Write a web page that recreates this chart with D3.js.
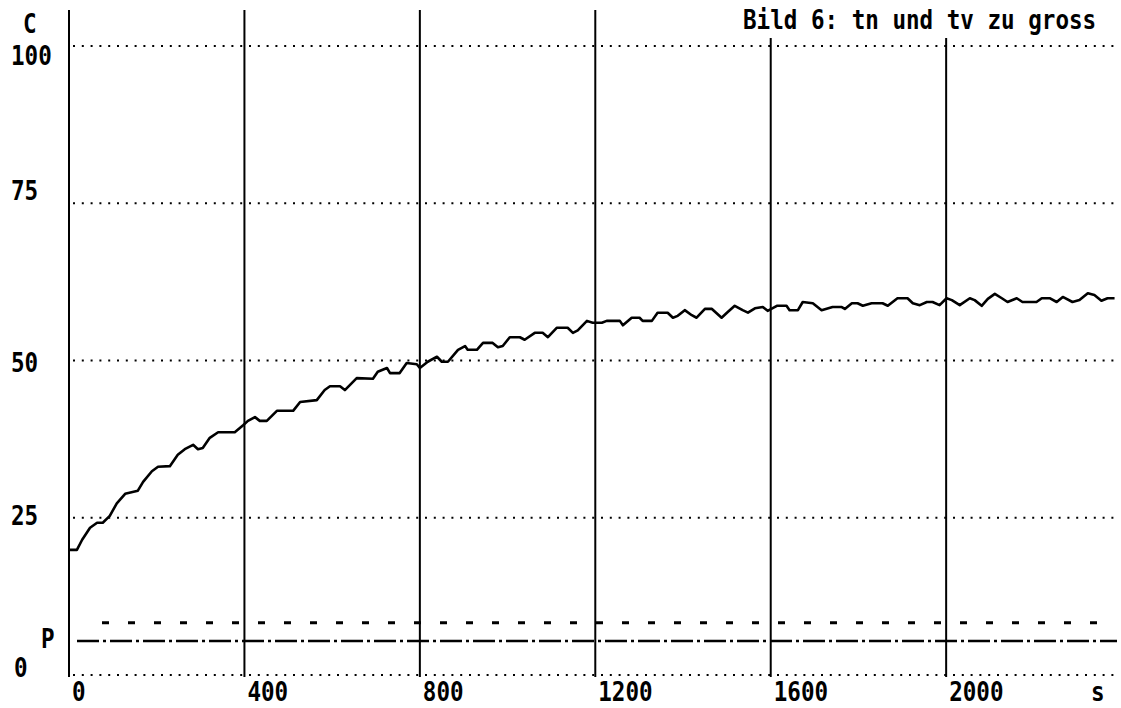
<!DOCTYPE html>
<html>
<head>
<meta charset="utf-8">
<script src="https://cdn.jsdelivr.net/npm/d3@7"></script>
<style>
  html, body { margin: 0; padding: 0; background: #fff; }
  svg { display: block; }
  text { font-family: "DejaVu Sans Mono", monospace; font-weight: bold; fill: #000; }
</style>
</head>
<body>
<script>
// Data (time in s, temperature in C)
var timeS = [2, 18, 30, 48, 64, 77, 93, 109, 128, 157, 169, 189, 203, 230, 248, 264, 283, 294, 305, 321,
  340, 378, 397, 408, 424, 435, 451, 474, 511, 527, 565, 583, 595, 618, 629, 656, 693, 704, 725, 732,
  754, 770, 793, 800, 818, 839, 850, 864, 887, 903, 909, 930, 944, 966, 978, 989, 1005, 1028, 1039, 1062,
  1080, 1092, 1112, 1137, 1149, 1160, 1181, 1194, 1215, 1226, 1256, 1263, 1283, 1301, 1308, 1329, 1342, 1365, 1377, 1388,
  1404, 1420, 1431, 1450, 1466, 1488, 1502, 1518, 1536, 1548, 1564, 1582, 1593, 1614, 1636, 1643, 1662, 1673, 1696, 1716,
  1741, 1762, 1769, 1785, 1798, 1810, 1830, 1855, 1867, 1889, 1912, 1924, 1940, 1956, 1969, 1985, 2001, 2013, 2031, 2054,
  2065, 2081, 2095, 2111, 2127, 2140, 2161, 2174, 2206, 2218, 2236, 2252, 2266, 2288, 2304, 2323, 2338, 2354, 2368, 2384];

var tempC = [19.9, 19.9, 21.5, 23.4, 24.2, 24.2, 25.3, 27.3, 28.8, 29.3, 30.7, 32.4, 33.1, 33.2, 35.0, 35.9, 36.6, 35.9, 36.1, 37.7,
  38.6, 38.6, 39.7, 40.4, 41.0, 40.4, 40.4, 42.0, 42.0, 43.4, 43.7, 45.3, 45.9, 45.9, 45.3, 47.2, 47.1, 48.2, 48.8, 48.0,
  48.0, 49.6, 49.4, 48.8, 49.8, 50.6, 49.8, 49.8, 51.7, 52.3, 51.7, 51.7, 52.8, 52.8, 52.1, 52.3, 53.7, 53.7, 53.3, 54.4,
  54.4, 53.7, 55.2, 55.2, 54.4, 54.8, 56.3, 56.0, 56.0, 56.3, 56.3, 55.6, 56.8, 56.8, 56.3, 56.3, 57.6, 57.6, 56.8, 57.1,
  58.0, 57.2, 56.8, 58.2, 58.2, 56.8, 57.7, 58.7, 58.0, 57.6, 58.3, 58.5, 57.9, 58.7, 58.7, 58.0, 58.0, 59.3, 59.1, 58.0,
  58.5, 58.5, 58.2, 59.1, 59.1, 58.7, 59.1, 59.1, 58.7, 59.9, 59.9, 59.1, 58.8, 59.3, 59.3, 58.8, 59.9, 59.6, 58.8, 59.9,
  59.6, 58.7, 59.8, 60.6, 59.9, 59.3, 59.9, 59.3, 59.3, 59.9, 59.9, 59.3, 60.1, 59.3, 59.6, 60.7, 60.4, 59.5, 59.9, 59.9];

var xTicks = [0, 400, 800, 1200, 1600, 2000];
var yTicks = [0, 25, 50, 75, 100];
var dashedLevel = 8.3;   // short dashes
var pLevel = 5.4;        // dash-dot line marked P
var title = 'Bild 6: tn und tv zu gross';

// Layout
var width = 1121, height = 708;
var squeeze = 0.836;  // narrow printer font: 13.6px per char instead of 16.3
var x = d3.scaleLinear().domain([0, 2385]).range([69, 1115]);
var y = d3.scaleLinear().domain([0, 100]).range([675, 46]);
// baseline offsets of the y labels (old printer rows do not line up with the grid)
var yLabelDy = {0: 2, 25: 7, 50: 11, 75: -3, 100: 19};

var svg = d3.select('body').append('svg')
    .attr('width', width)
    .attr('height', height);

function monoText(parent, str, px, py) {
  return parent.append('text')
      .attr('transform', 'translate(' + px + ',' + py + ') scale(' + squeeze + ',1)')
      .attr('font-size', 27)
      .text(str);
}

// dotted horizontal grid
svg.append('g').selectAll('line')
  .data(yTicks)
  .enter().append('line')
    .attr('x1', 73)
    .attr('x2', x.range()[1])
    .attr('y1', function(d) { return y(d); })
    .attr('y2', function(d) { return y(d); })
    .attr('stroke', '#000')
    .attr('stroke-width', 2)
    .attr('stroke-dasharray', '2 6.8');

// solid vertical lines (the ones under the title start lower)
svg.append('g').selectAll('line')
  .data(xTicks)
  .enter().append('line')
    .attr('x1', function(d) { return x(d); })
    .attr('x2', function(d) { return x(d); })
    .attr('y1', function(d) { return d >= 1600 ? 38 : 10; })
    .attr('y2', y(0) + 2)
    .attr('stroke', '#000')
    .attr('stroke-width', 2);

// dashed level
svg.append('line')
    .attr('x1', x(0) + 33)
    .attr('x2', 1106)
    .attr('y1', y(dashedLevel))
    .attr('y2', y(dashedLevel))
    .attr('stroke', '#000')
    .attr('stroke-width', 3)
    .attr('stroke-dasharray', '7 19');

// dash-dot P line
svg.append('line')
    .attr('x1', x(0) + 8)
    .attr('x2', 1117)
    .attr('y1', y(pLevel))
    .attr('y2', y(pLevel))
    .attr('stroke', '#000')
    .attr('stroke-width', 2.5)
    .attr('stroke-dasharray', '22 4 3 4');

// curve
var line = d3.line()
    .x(function(d) { return x(d[0]); })
    .y(function(d) { return y(d[1]); });

svg.append('path')
    .datum(d3.zip(timeS, tempC))
    .attr('d', line)
    .attr('fill', 'none')
    .attr('stroke', '#000')
    .attr('stroke-width', 2.6)
    .attr('stroke-linejoin', 'round');

// labels
var labels = svg.append('g');

yTicks.forEach(function(d) {
  monoText(labels, String(d), d === 0 ? 14 : 11, y(d) + yLabelDy[d]);
});
monoText(labels, 'C', 23, 33);
monoText(labels, 'P', 41, 648);

xTicks.forEach(function(d) {
  monoText(labels, String(d), x(d) + 3, 701);
});
monoText(labels, 's', 1091, 701);

monoText(labels, title, 743, 29);
</script>
</body>
</html>
